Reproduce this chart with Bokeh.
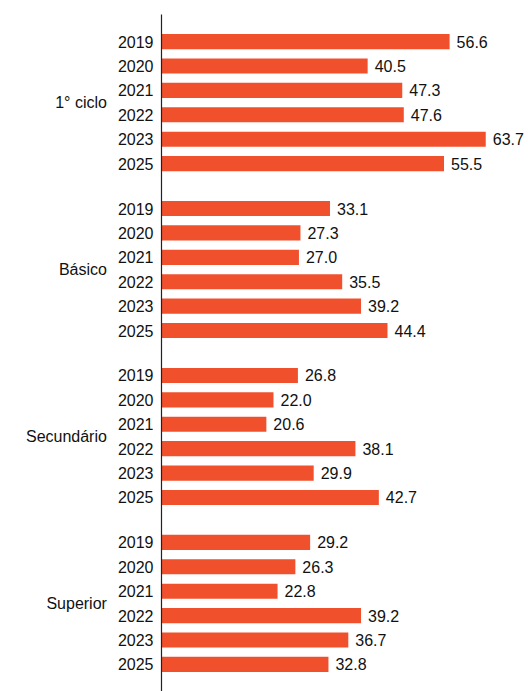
from bokeh.plotting import figure
from bokeh.models import FactorRange, Range1d, ColumnDataSource
from bokeh.core.properties import value
from bokeh.embed import file_html
from bokeh.resources import INLINE

groups = ["1° ciclo", "Básico", "Secundário", "Superior"]
years = ["2019", "2020", "2021", "2022", "2023", "2025"]
ciclo1 = [56.6, 40.5, 47.3, 47.6, 63.7, 55.5]
basico = [33.1, 27.3, 27.0, 35.5, 39.2, 44.4]
secundario = [26.8, 22.0, 20.6, 38.1, 29.9, 42.7]
superior = [29.2, 26.3, 22.8, 39.2, 36.7, 32.8]

series = [ciclo1, basico, secundario, superior]

# Build factors bottom-to-top (reversed so that first group/year is on top)
factors = []
vals = []
for g, s in reversed(list(zip(groups, series))):
    for y, v in reversed(list(zip(years, s))):
        factors.append((g, y))
        vals.append(v)

src = ColumnDataSource(dict(y=factors, v=vals, lab=[f"{v:.1f}" for v in vals]))

FONT = "Liberation Sans"

p = figure(
    width=528, height=691,
    y_range=FactorRange(*factors, group_padding=0.84, factor_padding=0.0,
                        range_padding=0.61, range_padding_units="absolute"),
    x_range=Range1d(0, 72.1),
    x_axis_location=None,
    output_backend="svg", toolbar_location=None,
    min_border_left=161, min_border_right=0, min_border_top=14, min_border_bottom=0,
)

p.hbar(y="y", right="v", left=0, height=0.62, source=src,
       fill_color="#F1502D", line_color=None)
p.text(x="v", y="y", text="lab", source=src, x_offset=7,
       text_align="left", text_baseline="middle",
       text_font=value(FONT), text_font_size="16px", text_color="#111111")

ax = p.yaxis[0]
ax.axis_line_color = "#222222"
ax.axis_line_width = 1.2
ax.major_tick_line_color = None
ax.major_tick_out = 0
ax.major_tick_in = 0
ax.minor_tick_line_color = None
ax.major_label_standoff = 8
ax.major_label_text_font = FONT
ax.major_label_text_font_size = "16px"
ax.major_label_text_color = "#111111"
ax.group_label_orientation = "horizontal"
ax.group_text_font = FONT
ax.group_text_font_size = "16px"
ax.group_text_font_style = "normal"
ax.group_text_color = "#111111"
ax.separator_line_color = None

p.xgrid.grid_line_color = None
p.ygrid.grid_line_color = None
p.outline_line_color = None
p.background_fill_color = "white"
p.border_fill_color = "white"

open("out.html", "w").write(file_html(p, INLINE))
